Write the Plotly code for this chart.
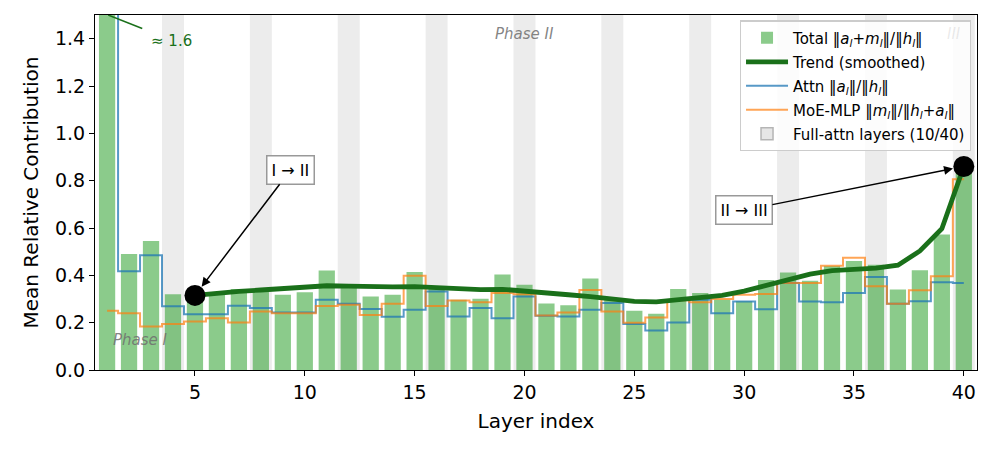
import plotly.graph_objects as go

layers = list(range(1, 41))
total = [1.6, 0.49, 0.545, 0.32, 0.31, 0.318, 0.342, 0.335, 0.318, 0.328,
         0.42, 0.347, 0.311, 0.318, 0.414, 0.35, 0.297, 0.301, 0.403, 0.36,
         0.281, 0.274, 0.387, 0.30, 0.25, 0.238, 0.342, 0.325, 0.297, 0.29,
         0.38, 0.412, 0.377, 0.439, 0.461, 0.445, 0.34, 0.421, 0.573, 0.86]
attn = [1.6, 0.417, 0.485, 0.269, 0.236, 0.236, 0.272, 0.262, 0.243, 0.243,
        0.297, 0.28, 0.258, 0.225, 0.255, 0.332, 0.226, 0.262, 0.219, 0.311,
        0.229, 0.226, 0.255, 0.283, 0.194, 0.167, 0.201, 0.297, 0.24, 0.289,
        0.257, 0.368, 0.289, 0.286, 0.325, 0.393, 0.28, 0.29, 0.371, 0.368]
mlp = [0.25, 0.24, 0.184, 0.194, 0.205, 0.219, 0.201, 0.247, 0.24, 0.24,
       0.27, 0.276, 0.232, 0.28, 0.398, 0.27, 0.294, 0.286, 0.325, 0.32,
       0.23, 0.243, 0.338, 0.247, 0.2, 0.222, 0.295, 0.286, 0.30, 0.318,
       0.321, 0.368, 0.368, 0.441, 0.474, 0.354, 0.28, 0.337, 0.396, 0.806]
trend_layers = list(range(5, 41))
trend = [0.315, 0.325, 0.332, 0.338, 0.344, 0.351, 0.356, 0.354, 0.350, 0.351,
         0.352, 0.347, 0.341, 0.340, 0.341, 0.335, 0.326, 0.318, 0.310, 0.300,
         0.290, 0.288, 0.297, 0.306, 0.315, 0.333, 0.358, 0.384, 0.405, 0.420,
         0.426, 0.430, 0.443, 0.503, 0.597, 0.86]
full_attn_layers = [4, 8, 12, 16, 20, 24, 28, 32, 36, 40]
transition_layers = [5, 40]
transition_labels = ["I → II", "II → III"]
phase_labels = ["Phase I", "Phase II", "III"]

FONT = "DejaVu Sans"
fig = go.Figure()

fig.add_trace(go.Bar(
    x=layers, y=total, width=0.74,
    marker=dict(color="rgba(44,160,44,0.55)", line=dict(width=0)),
    name="Total ‖<i>a<sub>l</sub></i>+<i>m<sub>l</sub></i>‖/‖<i>h<sub>l</sub></i>‖",
    legendrank=1, legendgroup="a"))
fig.add_trace(go.Scatter(
    x=layers, y=attn, mode="lines", line=dict(shape="hvh", color="rgba(31,119,180,0.75)", width=2),
    name="Attn ‖<i>a<sub>l</sub></i>‖/‖<i>h<sub>l</sub></i>‖", legendrank=3, legendgroup="c"))
fig.add_trace(go.Scatter(
    x=layers, y=mlp, mode="lines", line=dict(shape="hvh", color="rgba(255,127,14,0.7)", width=2),
    name="MoE-MLP ‖<i>m<sub>l</sub></i>‖/‖<i>h<sub>l</sub></i>+<i>a<sub>l</sub></i>‖", legendrank=4, legendgroup="d"))
fig.add_trace(go.Scatter(
    x=trend_layers, y=trend, mode="lines", line=dict(color="#1a701a", width=4.8),
    name="Trend (smoothed)", legendrank=2, legendgroup="b"))
mk_y = [trend[trend_layers.index(l)] for l in transition_layers]
fig.add_trace(go.Scatter(
    x=transition_layers, y=mk_y, mode="markers",
    marker=dict(color="black", size=21), showlegend=False))
fig.add_trace(go.Bar(
    x=[None], y=[None], name="Full-attn layers (10/40)",
    marker=dict(color="#e6e6e6", line=dict(color="#b5b5b5", width=1.5)),
    legendrank=5, legendgroup="e"))

shapes = []
for l in full_attn_layers:
    shapes.append(dict(type="rect", xref="x", yref="y domain", x0=l - 0.5, x1=l + 0.5,
                       y0=0, y1=1, fillcolor="#ececec", line=dict(width=0), layer="below"))
shapes.append(dict(type="line", xref="x", yref="y", x0=1.05, y0=1.5, x1=2.6, y1=1.443,
                   line=dict(color="#1a701a", width=1.5)))

ann = []
ann.append(dict(x=5, y=mk_y[0], ax=9.35, ay=0.845, xref="x", yref="y", axref="x", ayref="y",
                text=transition_labels[0], showarrow=True, arrowhead=2, arrowsize=1.2, arrowwidth=1.5,
                arrowcolor="black", standoff=11, bgcolor="white", bordercolor="#999999",
                borderwidth=1.5, borderpad=4, font=dict(family=FONT, size=16, color="black")))
ann.append(dict(x=40, y=mk_y[1], ax=30.0, ay=0.675, xref="x", yref="y", axref="x", ayref="y",
                text=transition_labels[1], showarrow=True, arrowhead=2, arrowsize=1.2, arrowwidth=1.5,
                arrowcolor="black", standoff=11, bgcolor="white", bordercolor="#999999",
                borderwidth=1.5, borderpad=4, font=dict(family=FONT, size=16, color="black")))
ann.append(dict(x=3.95, y=1.392, xref="x", yref="y", text="≈ 1.6", showarrow=False,
                font=dict(family=FONT, size=15, color="#1a701a")))
ann.append(dict(x=2.5, y=0.127, xref="x", yref="y", text="<i>" + phase_labels[0] + "</i>", showarrow=False,
                font=dict(family=FONT, size=15, color="rgba(110,110,110,0.85)")))
ann.append(dict(x=20.0, y=1.418, xref="x", yref="y", text="<i>" + phase_labels[1] + "</i>", showarrow=False,
                font=dict(family=FONT, size=15, color="rgba(110,110,110,0.85)")))
ann.append(dict(x=39.55, y=1.418, xref="x", yref="y", text="<i>" + phase_labels[2] + "</i>", showarrow=False,
                font=dict(family=FONT, size=15, color="rgba(150,150,150,0.2)")))

fig.update_layout(
    width=996, height=451,
    margin=dict(l=95, r=19, t=15, b=81),
    plot_bgcolor="white", paper_bgcolor="white",
    font=dict(family=FONT, color="black"),
    shapes=shapes, annotations=ann,
    barmode="overlay", showlegend=True,
    legend=dict(x=0.993, y=0.985, xanchor="right", yanchor="top",
                bgcolor="rgba(255,255,255,0.85)", bordercolor="#cccccc", borderwidth=1.2,
                font=dict(family=FONT, size=15), tracegroupgap=1.5, itemwidth=42),
)
fig.update_xaxes(range=[0.45, 40.6], tickmode="array", tickvals=[5, 10, 15, 20, 25, 30, 35, 40],
                 ticks="outside", ticklen=5, tickwidth=1.2, tickcolor="black",
                 showline=True, linecolor="black", linewidth=1.2, mirror=True, showgrid=False,
                 zeroline=False, tickfont=dict(size=19), automargin=False,
                 title=dict(text="Layer index", font=dict(size=20), standoff=12))
fig.update_yaxes(range=[0, 1.5], tickmode="array", tickvals=[0, 0.2, 0.4, 0.6, 0.8, 1.0, 1.2, 1.4],
                 tickformat=".1f",
                 ticks="outside", ticklen=5, tickwidth=1.2, tickcolor="black",
                 showline=True, linecolor="black", linewidth=1.2, mirror=True, showgrid=False,
                 zeroline=False, tickfont=dict(size=19), automargin=False,
                 title=dict(text="Mean Relative Contribution", font=dict(size=20), standoff=10))

fig.write_html("out.html")
